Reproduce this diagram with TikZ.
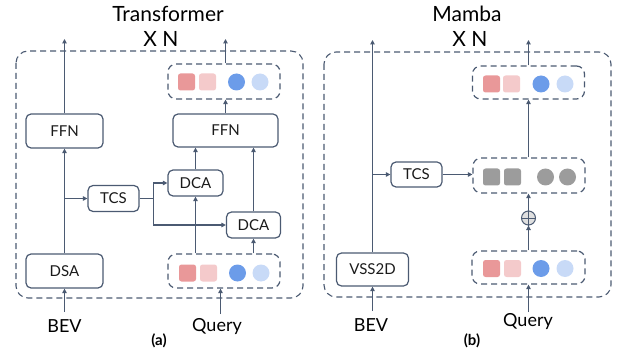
\documentclass[tikz,border=0pt]{standalone}
\usepackage{fontspec}
\setmainfont{Lato}
\usetikzlibrary{arrows.meta}
\definecolor{ln}{HTML}{4B5A72}
\definecolor{pinkD}{HTML}{E99899}
\definecolor{pinkL}{HTML}{F4CACB}
\definecolor{blueD}{HTML}{6C9CE9}
\definecolor{blueL}{HTML}{C8DAF7}
\definecolor{grayT}{HTML}{9C9C9C}
\definecolor{txt}{HTML}{1A1A1A}
\begin{document}
\begin{tikzpicture}[x=1pt,y=-1pt,
  blk/.style={draw=ln,line width=1.2pt,rounded corners=5pt,inner sep=0pt,text=txt,
     font=\fontsize{15}{15}\selectfont},
  tokbox/.style={draw=ln,line width=1.2pt,rounded corners=8pt,dash pattern=on 6pt off 4pt},
  outer/.style={draw=ln,line width=1.1pt,rounded corners=12pt,dash pattern=on 6pt off 4pt},
  sq/.style={rectangle,rounded corners=2.5pt,minimum size=17pt,inner sep=0pt},
  ci/.style={circle,minimum size=17pt,inner sep=0pt},
  arr/.style={draw=ln,line width=1.2pt,-{Triangle[length=4.5pt,width=4.5pt]}},
  lnk/.style={draw=ln,line width=1.2pt},
  ttl/.style={anchor=base,text=black,font=\fontsize{21}{21}\selectfont},
  lbl/.style={anchor=base,text=black,font=\fontsize{18}{18}\selectfont},
  capt/.style={anchor=base,text=black,font=\fontsize{15}{15}\bfseries\selectfont}]
\useasboundingbox (0,0) rectangle (618,358);

% ================= (a) Transformer =================
\node[ttl] (t1) at (168,22) {Transformer};
\node[ttl] (n1) at (161,47) {X N};
\draw[outer] (16,51) rectangle (303,298);

\node[blk,minimum width=77pt,minimum height=34pt] (ffnL) at (64.5,131) {FFN};
\node[blk,minimum width=77pt,minimum height=34pt] (dsa) at (64.5,271) {DSA};
\node[blk,minimum width=51pt,minimum height=26pt] (tcsA) at (113.5,198.5) {TCS};
\node[blk,minimum width=55pt,minimum height=26pt] (dca1) at (195.5,183) {DCA};
\node[blk,minimum width=54pt,minimum height=26pt] (dca2) at (253.5,225) {DCA};
\node[blk,minimum width=105pt,minimum height=33pt] (ffnR) at (225.5,130.5) {FFN};

\node[tokbox,minimum width=112pt,minimum height=35pt,inner sep=0pt] (topA) at (224,81.5) {};
\node[sq,fill=pinkD] at (186.5,82) {};
\node[sq,fill=pinkL] at (207.5,82) {};
\node[ci,fill=blueD] at (236.5,82) {};
\node[ci,fill=blueL] at (260,82) {};

\node[tokbox,minimum width=112pt,minimum height=34pt,inner sep=0pt] (botA) at (224,271) {};
\node[sq,fill=pinkD] at (187.5,273) {};
\node[sq,fill=pinkL] at (208.5,273) {};
\node[ci,fill=blueD] at (237.5,273) {};
\node[ci,fill=blueL] at (261,273) {};

\node[lbl] (bevA) at (64.5,332) {BEV};
\node[lbl] (qA) at (217,331) {Query};
\node[capt] (capA) at (159,345) {(a)};

\coordinate (bevAtop) at (64.5,312);
\coordinate (qAtop) at (220.5,314);
\coordinate (outA1) at (64.5,39);
\coordinate (outA2) at (225.5,39);
\coordinate (brA) at (64.5,198.5);
\coordinate (spA) at (153.5,198.5);

\draw[arr] (bevAtop) -- (dsa.south);
\draw[arr] (dsa.north) -- (ffnL.south);
\draw[arr] (ffnL.north) -- (outA1);
\draw[arr] (brA) -- (tcsA.west);
\draw[lnk] (tcsA.east) -- (spA);
\draw[arr] (spA) |- (dca1.west);
\draw[arr] (spA) |- (dca2.west);
\draw[arr] (botA.north -| dca1.south) -- (dca1.south);
\draw[arr] (botA.north -| dca2.south) -- (dca2.south);
\draw[arr] (dca1.north) -- (dca1.north |- ffnR.south);
\draw[arr] (dca2.north) -- (dca2.north |- ffnR.south);
\draw[arr] (ffnR.north) -- (ffnR.north |- topA.south);
\draw[arr] (topA.north -| outA2) -- (outA2);
\draw[arr] (qAtop) -- (qAtop |- botA.south);

% ================= (b) Mamba =================
\node[ttl] (t2) at (467,22) {Mamba};
\node[ttl] (n2) at (470,47) {X N};
\draw[outer] (324,52) rectangle (611,297);

\node[blk,minimum width=72pt,minimum height=33pt] (vss) at (372.5,269.5) {VSS2D};
\node[blk,minimum width=51pt,minimum height=25pt] (tcsB) at (416.5,174.5) {TCS};

\node[tokbox,minimum width=112pt,minimum height=33pt,inner sep=0pt] (topB) at (528.5,82.5) {};
\node[sq,fill=pinkD] at (491.5,84) {};
\node[sq,fill=pinkL] at (511.5,84) {};
\node[ci,fill=blueD] at (541,84) {};
\node[ci,fill=blueL] at (565,84) {};

\node[tokbox,minimum width=112pt,minimum height=35pt,inner sep=0pt] (midB) at (529,175.5) {};
\node[sq,fill=grayT] at (491.5,177) {};
\node[sq,fill=grayT] at (512.5,177) {};
\node[ci,fill=grayT] at (545.5,177) {};
\node[ci,fill=grayT] at (567.5,177) {};

\node[tokbox,minimum width=113pt,minimum height=33pt,inner sep=0pt] (botB) at (528.5,267.5) {};
\node[sq,fill=pinkD] at (491.5,268.5) {};
\node[sq,fill=pinkL] at (512.5,268.5) {};
\node[ci,fill=blueD] at (541,268.5) {};
\node[ci,fill=blueL] at (565,268.5) {};

\node[circle,draw=ln,fill=gray!25,line width=1pt,minimum size=14pt,inner sep=0pt] (plus) at (528.5,218) {};
\draw[lnk,line width=0.9pt] (plus.north) -- (plus.south) (plus.west) -- (plus.east);

\node[lbl] (bevB) at (371,331) {BEV};
\node[lbl] (qB) at (528,326) {Query};
\node[capt] (capB) at (472,345) {(b)};

\coordinate (bevBtop) at (372.5,311);
\coordinate (qBtop) at (528.5,312);
\coordinate (outB1) at (372.5,40);
\coordinate (outB2) at (528.5,40);
\coordinate (brB) at (372.5,174.5);

\draw[arr] (bevBtop) -- (vss.south);
\draw[arr] (vss.north) -- (outB1);
\draw[arr] (brB) -- (tcsB.west);
\draw[arr] (tcsB.east) -- (tcsB.east -| midB.west);
\draw[arr] (qBtop) -- (qBtop |- botB.south);
\draw[arr] (botB.north -| plus.south) -- (plus.south);
\draw[arr] (plus.north) -- (plus.north |- midB.south);
\draw[arr] (midB.north -| topB.south) -- (topB.south);
\draw[arr] (topB.north) -- (outB2);
\end{tikzpicture}
\end{document}
